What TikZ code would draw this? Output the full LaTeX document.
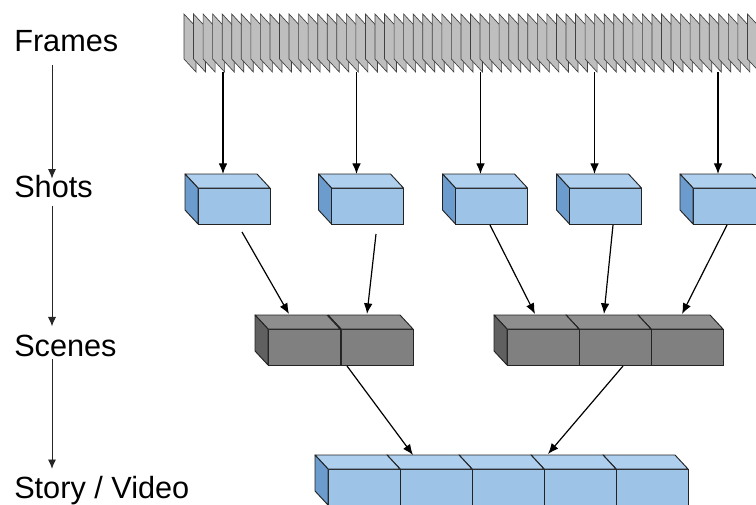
\documentclass[tikz,border=0pt]{standalone}
\usepackage{fontspec}
\setmainfont{Liberation Sans}
\usetikzlibrary{arrows.meta,calc,fit}
\definecolor{ckek}{RGB}{157,195,230}
\definecolor{ckekt}{RGB}{174,207,238}
\definecolor{ckeko}{RGB}{108,156,206}
\definecolor{cszurke}{RGB}{128,128,128}
\definecolor{cszurket}{RGB}{142,142,142}
\definecolor{cszurkeo}{RGB}{96,96,96}
\definecolor{clap}{RGB}{190,190,190}
\definecolor{cvonal}{RGB}{35,35,35}
\tikzset{
  kek/.style={draw=cvonal,fill=ckek,line width=0.7pt,minimum width=54pt,minimum height=27pt,inner sep=0pt,outer sep=0pt},
  kekteto/.style={draw=cvonal,fill=ckekt,line width=0.7pt,line join=round},
  kekoldal/.style={draw=cvonal,fill=ckeko,line width=0.7pt,line join=round},
  szurke/.style={kek,fill=cszurke},
  szurketeto/.style={kekteto,fill=cszurket},
  szurkeoldal/.style={kekoldal,fill=cszurkeo},
  lap/.style={draw=black!75,fill=clap,line width=0.5pt},
  nyil/.style={-{Latex[length=8pt,width=6.5pt]},line width=0.9pt},
  bnyil/.style={-{Latex[length=7pt,width=6pt]},line width=0.7pt,black!85},
  felirat/.style={font=\fontsize{23}{27}\selectfont,inner sep=0pt,anchor=base west},
}
% egy doboz: szin, nev, elolap kozepe
\newcommand{\kocka}[3]{%
  \node[#1] (#2) at (#3) {};
  \filldraw[#1teto] (#2.north west) -- ++(-13,-14) -- ($(#2.north east)+(-13,-14)$) -- (#2.north east) -- cycle;
  \filldraw[#1oldal] (#2.north west) -- ++(-13,-14) -- ($(#2.south west)+(-13,-14)$) -- (#2.south west) -- cycle;
}
\begin{document}
\begin{tikzpicture}[x=0.75pt,y=-0.75pt]
  \path[use as bounding box,clip] (0,0) rectangle (756,504);

  % bal oldali szintek
  \node[felirat] (lframes) at (14,51) {Frames};
  \node[felirat] (lshots) at (14,197) {Shots};
  \node[felirat] (lscenes) at (14,356) {Scenes};
  \node[felirat] (lstory) at (14,498) {Story / Video};
  \draw[bnyil,shorten <=10pt,shorten >=-3pt] ($(lframes.south west)+(38,0)$) -- ($(lshots.north west)+(38,0)$);
  \draw[bnyil,shorten <=6pt,shorten >=6pt] ($(lshots.south west)+(38,0)$) -- ($(lscenes.north west)+(38,0)$);
  \draw[bnyil,shorten <=2pt,shorten >=5pt] ($(lscenes.south west)+(38,0)$) -- ($(lstory.north west)+(38,0)$);

  % kepkockak
  \foreach \i in {0,...,60}
    \filldraw[lap] ({184+9.55*\i},14) -- ++(12,13) -- ++(0,45) -- ++(-12,-13) -- cycle;
  \node[fit={(184,14) (770,72)},inner sep=0pt] (frames) {};

  % snittek
  \kocka{kek}{s5}{729,206}
  \kocka{kek}{s4}{605.5,206}
  \kocka{kek}{s3}{491.5,206}
  \kocka{kek}{s2}{367.5,206}
  \kocka{kek}{s1}{234,206}

  % jelenetek (jobbrol balra)
  \kocka{szurke}{j2c}{687,347}
  \kocka{szurke}{j2b}{615,347}
  \kocka{szurke}{j2a}{543,347}
  \kocka{szurke}{j1b}{377,347}
  \kocka{szurke}{j1a}{304,347}

  % video
  \kocka{kek}{v5}{652,487}
  \kocka{kek}{v4}{580,487}
  \kocka{kek}{v3}{508,487}
  \kocka{kek}{v2}{436,487}
  \kocka{kek}{v1}{364,487}

  \foreach \s in {s1,s2,s3,s4,s5}
    \draw[nyil] (frames.south -| {$(\s.north)+(-11,0)$}) -- ($(\s.north)+(-11,-14)$);

  \draw[nyil] ($(s1.south)+(8,8)$) -- ($(j1a.north)+(-15,-15)$);
  \draw[nyil] ($(s2.south)+(8.5,10)$) -- ($(j1b.north)+(-10,-15)$);
  \draw[nyil] ($(s3.south)+(-1.5,1)$) -- ($(j2a.north)+(-8,-15)$);
  \draw[nyil] ($(s4.south)+(7.5,1)$) -- ($(j2b.north)+(-11,-15)$);
  \draw[nyil] ($(s5.south)+(-2,1)$) -- ($(j2c.north)+(-5,-15)$);

  \draw[nyil] ($(j1a.south east)+(7,1)$) -- ($(v2.north)+(-23,-14)$);
  \draw[nyil] ($(j2b.south)+(8,1)$) -- ($(v4.north)+(-32,-15)$);
\end{tikzpicture}
\end{document}
